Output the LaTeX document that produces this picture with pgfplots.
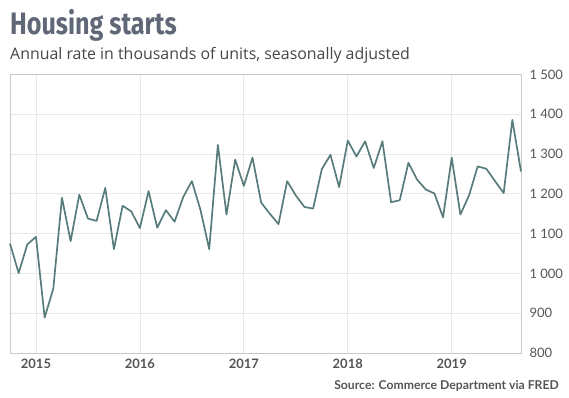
\documentclass[border=0pt]{standalone}
\usepackage{pgfplots}
\pgfplotsset{compat=1.18}
\usepackage{fontspec}
\setmainfont{Lato}
\newfontfamily\titlefont{Fira Sans}
\newfontfamily\subfont{Open Sans}
\definecolor{linec}{RGB}{88,124,124}
\definecolor{titlec}{RGB}{96,104,120}
\definecolor{subc}{RGB}{70,70,70}
\definecolor{tickc}{RGB}{85,85,85}
\definecolor{gridc}{RGB}{232,232,232}
\definecolor{framec}{RGB}{200,200,200}
\pgfplotstableread{
m v
-3 1075
-2 1001
-1 1073
0 1092
1 889
2 962
3 1190
4 1081
5 1198
6 1138
7 1132
8 1215
9 1061
10 1170
11 1156
12 1114
13 1207
14 1115
15 1159
16 1130
17 1192
18 1232
19 1159
20 1061
21 1323
22 1148
23 1286
24 1220
25 1291
26 1178
27 1150
28 1124
29 1232
30 1196
31 1167
32 1163
33 1262
34 1298
35 1217
36 1334
37 1294
38 1332
39 1265
40 1332
41 1179
42 1184
43 1278
44 1236
45 1211
46 1201
47 1141
48 1291
49 1148
50 1196
51 1269
52 1263
53 1232
54 1202
55 1386
56 1256
}\starts
\begin{document}
\begin{tikzpicture}[x=1pt,y=1pt]
\path[use as bounding box] (0,0) rectangle (569,398);
\node[anchor=base west, inner sep=0, text=titlec, font=\titlefont\bfseries\fontsize{31}{31}\selectfont] at (10,363) {\scalebox{0.81}[1]{Housing starts}};
\node[anchor=base west, inner sep=0, text=subc, font=\subfont\fontsize{15.9}{16}\selectfont] at (10,338.7) {Annual rate in thousands of units, seasonally adjusted};
\node[anchor=base east, inner sep=0, text=tickc, font=\bfseries\fontsize{12.2}{12}\selectfont] at (559,9) {Source: Commerce Department via FRED};
\begin{axis}[
  at={(10pt,45pt)}, anchor=south west,
  scale only axis, width=511pt, height=278.5pt,
  xmin=-3, xmax=56, ymin=800, ymax=1500,
  xtick={0,12,24,36,48},
  xticklabels={2015,2016,2017,2018,2019},
  ytick={800,900,1000,1100,1200,1300,1400,1500},
  yticklabels={800,900,1 000,1 100,1 200,1 300,1 400,1 500},
  yticklabel pos=right,
  tick style={draw=none},
  grid=major,
  major grid style={draw=gridc, line width=0.8pt},
  axis line style={draw=framec, line width=0.8pt},
  xticklabel style={text=tickc, font=\bfseries\fontsize{13}{13}\selectfont, anchor=base, yshift=-15.3pt},
  yticklabel style={text=tickc, font=\fontsize{13}{13}\selectfont, anchor=west, xshift=5pt},
  xtick align=inside, ytick align=inside,
  clip=false,
]
\addplot[linec, line width=1.7pt, line join=round] table[x=m, y=v] {\starts};
\end{axis}
\end{tikzpicture}
\end{document}
